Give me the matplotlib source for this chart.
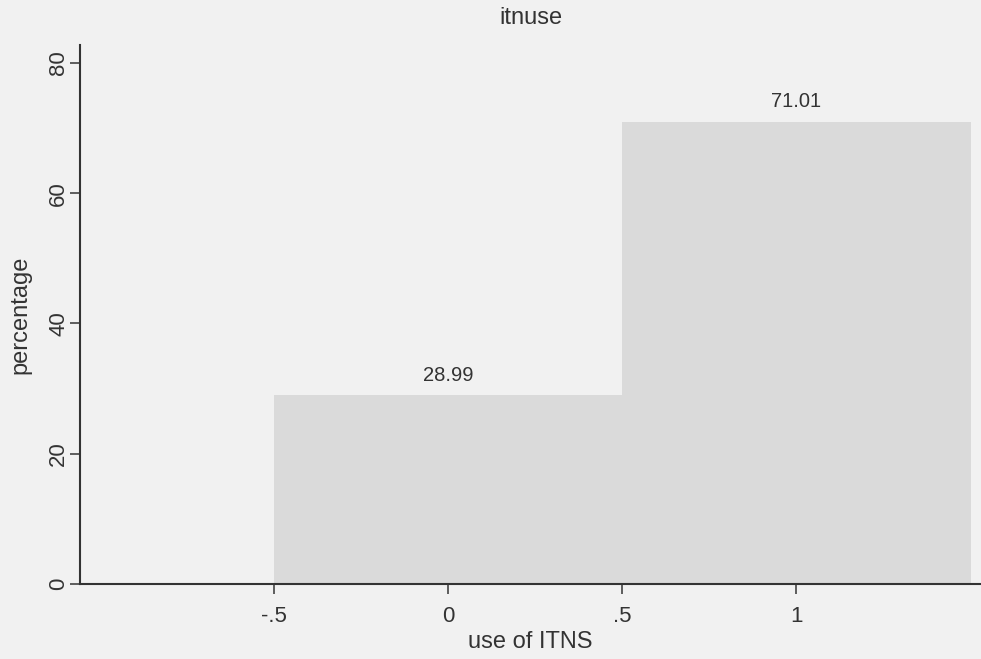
import matplotlib
matplotlib.use("Agg")
import matplotlib.pyplot as plt

# Data
bin_left = [-0.5, 0.5]
bin_width = [1.0, 1.0]
percentages = [28.99, 71.01]
value_labels = ["28.99", "71.01"]
x_ticks = [-0.5, 0, 0.5, 1]
x_tick_labels = ["-.5", "0", ".5", "1"]
y_ticks = [0, 20, 40, 60, 80]
y_tick_labels = ["0", "20", "40", "60", "80"]

plt.rcParams['font.family'] = ['Liberation Sans', 'DejaVu Sans']

bg = "#f1f1f1"
fig = plt.figure(figsize=(9.81, 6.59), dpi=100, facecolor=bg)
ax = fig.add_axes([0.082, 0.114, 0.918, 0.818])
ax.set_facecolor(bg)

ax.bar(bin_left, percentages, width=bin_width, align='edge',
       color="#dadada", edgecolor="none")
for xl, w, v, lab in zip(bin_left, bin_width, percentages, value_labels):
    ax.text(xl + w / 2, v + 1.6, lab, ha='center', va='bottom',
            fontsize=14.5, color="#333333")

ax.set_xlim(-1.055, 1.53)
ax.set_ylim(0, 82.8)
ax.set_xticks(x_ticks)
ax.set_xticklabels(x_tick_labels, fontsize=16, color="#333333")
ax.set_yticks(y_ticks)
ax.set_yticklabels(y_tick_labels, fontsize=16, color="#333333",
                   rotation=90, va='center')
ax.tick_params(axis='both', direction='out', length=7, width=1.2,
               color="#444444")
ax.tick_params(axis='x', pad=9)
ax.tick_params(axis='y', pad=1)

for s in ['top', 'right']:
    ax.spines[s].set_visible(False)
for s in ['left', 'bottom']:
    ax.spines[s].set_color("#333333")
    ax.spines[s].set_linewidth(1.5)

ax.set_xlabel("use of ITNS", fontsize=17, color="#333333", labelpad=3)
ax.set_ylabel("percentage", fontsize=17, color="#333333", labelpad=12)
ax.set_title("itnuse", fontsize=17, color="#333333", pad=15)

fig.savefig("out.png", dpi=100, facecolor=bg)
